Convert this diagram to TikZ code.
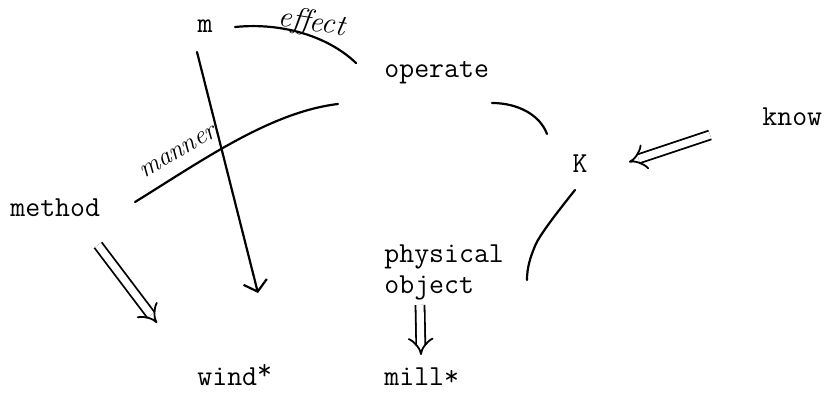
\documentclass[tikz,border=0pt]{standalone}
\usepackage{tikz}
\usetikzlibrary{arrows.meta}

\begin{document}
\begin{tikzpicture}[x=0.5pt,y=-0.5pt,
  word/.style={font=\fontsize{14.5}{15.5}\selectfont\ttfamily, inner sep=0pt},
  hand/.style={font=\fontsize{#1}{#1}\selectfont\itshape, inner sep=0pt},
  stroke/.style={line width=1.1pt, line cap=round},
  twin/.style={double, double distance=3.6pt, line width=0.9pt, -{Implies[scale=1.5]}}]

  \useasboundingbox (0,0) rectangle (826,392);

  \node[word, anchor=base] (m) at (205,32) {m};
  \node[word, anchor=base west] (operate) at (384,77) {operate};
  \node[word, anchor=base west] (method) at (10,216) {method};
  \node[word, anchor=base] (K) at (580,172) {K};
  \node[word, anchor=base west] (know) at (762,125) {know};
  \node[word, anchor=north west, align=left] (phys) at (384,244) {physical\\object};
  \node[word, anchor=base west] (wind) at (197,385) {wind\raisebox{3pt}{*}};
  \node[word, anchor=base west] (mill) at (384,385) {mill*};

  \coordinate (e1) at (235,27);
  \coordinate (e2) at (356,63);

  \coordinate (r1) at (135,202);
  \coordinate (r2) at (338,104);

  \coordinate (s1) at (197,52);
  \coordinate (s2) at (258,293);

  \coordinate (o1) at (492,103);
  \coordinate (o2) at (547,134);

  \coordinate (k1) at (575,190);
  \coordinate (k2) at (527,280);

%  \draw (e1) node {e1};
%  \draw (r1) node {r1};

  \draw[stroke] (e1) .. controls (285,22) and (330,38) .. (e2);
  \draw[stroke] (r1) .. controls (200,162) and (270,112) .. (r2);
  \draw[stroke] (o1) .. controls (518,103) and (540,115) .. (o2);
  \draw[stroke] (k1) .. controls (555,215) and (539,236) .. (535,246)
                     .. controls (530,258) and (527,268) .. (k2);

  \draw[stroke, -{Straight Barb[length=5pt, width=12pt]}] (s1) -- (s2);

  \node[hand=15, rotate=-9] (effect) at (312,23) {effect};
  \node[hand=13, rotate=30] (manner) at (178,152) {manner};

  \coordinate (t1) at (98,245);
  \coordinate (t2) at (157,323);
  \coordinate (p1) at (420,305);
  \coordinate (p2) at (421,355);
  \coordinate (w1) at (710,135);
  \coordinate (w2) at (629,162);

  \draw[twin] (t1) -- (t2);
  \draw[twin] (p1) -- (p2);
  \draw[twin] (w1) -- (w2);

\end{tikzpicture}
\end{document}
